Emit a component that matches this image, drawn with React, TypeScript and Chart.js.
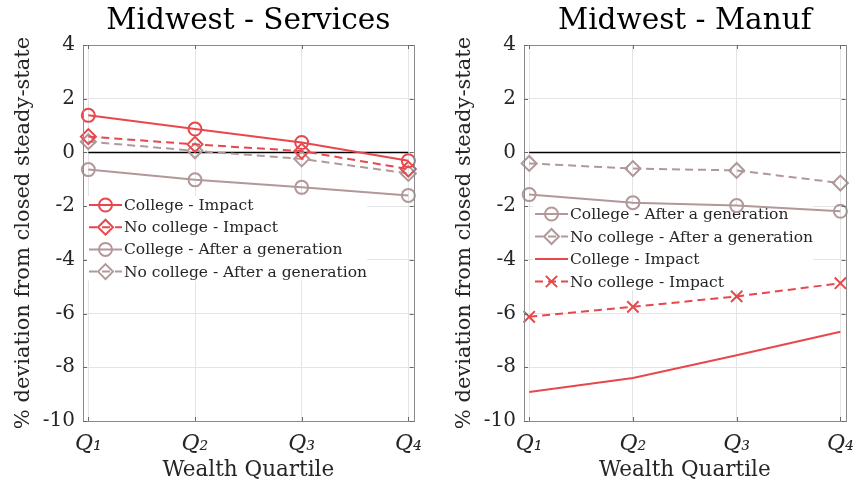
import React, { useEffect, useRef } from 'react';
import { Chart, registerables } from 'chart.js';

Chart.register(...registerables);

// ---------- data ----------
const quartiles = [1, 2, 3, 4];
const quartileLabels = ['Q₁', 'Q₂', 'Q₃', 'Q₄'];
const yTickValues = [4, 2, 0, -2, -4, -6, -8, -10];
const zeroLine = [0, 0, 0, 0];

// Midwest - Services
const servCollegeImpact = [1.38, 0.87, 0.37, -0.31];
const servNoCollegeImpact = [0.59, 0.3, 0.05, -0.62];
const servCollegeAfter = [-0.64, -1.02, -1.3, -1.6];
const servNoCollegeAfter = [0.4, 0.06, -0.24, -0.78];

// Midwest - Manuf
const manCollegeAfter = [-1.57, -1.87, -1.98, -2.19];
const manNoCollegeAfter = [-0.41, -0.6, -0.67, -1.14];
const manCollegeImpact = [-8.92, -8.4, -7.55, -6.68];
const manNoCollegeImpact = [-6.12, -5.75, -5.36, -4.87];

// ---------- styles ----------
const RED = '#E8474C';
const GREY = '#B19899';
const TEXT = '#262626';
const FONT = "'DejaVu Serif', serif";

type Marker = 'circle' | 'rectRot' | 'crossRot' | 'none';
type Series = { label: string; values: number[]; color: string; dashed: boolean; marker: Marker };

const markerRadius = (m: Marker) => (m === 'rectRot' ? 7.5 : m === 'crossRot' ? 8 : m === 'circle' ? 6.5 : 0);
const DASH = [8, 5];

function makeDataset(s: Series) {
  return {
    label: s.label,
    data: quartiles.map((q, i) => ({ x: q, y: s.values[i] })),
    borderColor: s.color,
    backgroundColor: s.color,
    borderWidth: 2,
    borderDash: s.dashed ? DASH : [],
    pointStyle: s.marker === 'none' ? 'circle' : s.marker,
    pointRadius: markerRadius(s.marker),
    pointHoverRadius: markerRadius(s.marker),
    pointBorderWidth: 2,
    pointBackgroundColor: 'rgba(0,0,0,0)',
    pointBorderColor: s.color,
    tension: 0,
    order: 0,
    clip: false as any,
  };
}

function drawMarker(ctx: CanvasRenderingContext2D, m: Marker, x: number, y: number, color: string) {
  const r = markerRadius(m);
  ctx.save();
  ctx.setLineDash([]);
  ctx.strokeStyle = color;
  ctx.lineWidth = 2;
  ctx.beginPath();
  if (m === 'circle') {
    ctx.arc(x, y, r, 0, Math.PI * 2);
  } else if (m === 'rectRot') {
    ctx.moveTo(x - r, y);
    ctx.lineTo(x, y - r);
    ctx.lineTo(x + r, y);
    ctx.lineTo(x, y + r);
    ctx.closePath();
  } else if (m === 'crossRot') {
    const d = r * Math.SQRT1_2;
    ctx.moveTo(x - d, y - d);
    ctx.lineTo(x + d, y + d);
    ctx.moveTo(x + d, y - d);
    ctx.lineTo(x - d, y + d);
  }
  if (m !== 'none') ctx.stroke();
  ctx.restore();
}

const decorPlugin = {
  id: 'decor',
  beforeDatasetsDraw(chart: any, _args: any, opts: any) {
    const ctx: CanvasRenderingContext2D = chart.ctx;
    const area = chart.chartArea;
    const lg = opts.legend;
    if (lg) {
      const items: Series[] = lg.items;
      const x0 = area.left + lg.dx;
      const y0 = area.top + lg.dy;
      ctx.save();
      ctx.font = `${lg.fontSize}px ${FONT}`;
      let maxW = 0;
      items.forEach((it) => (maxW = Math.max(maxW, ctx.measureText(it.label).width)));
      ctx.fillStyle = '#ffffff';
      ctx.fillRect(x0 - 2, y0 - 9, 35 + maxW + 2, (items.length - 1) * lg.rowH + 18);
      items.forEach((it, i) => {
        const y = y0 + i * lg.rowH;
        ctx.strokeStyle = it.color;
        ctx.lineWidth = 2;
        ctx.setLineDash(it.dashed ? DASH : []);
        ctx.beginPath();
        ctx.moveTo(x0, y);
        ctx.lineTo(x0 + 33, y);
        ctx.stroke();
        drawMarker(ctx, it.marker, x0 + 16.5, y, it.color);
        ctx.fillStyle = TEXT;
        ctx.textAlign = 'left';
        ctx.textBaseline = 'middle';
        ctx.fillText(it.label, x0 + 35, y + 1);
      });
      ctx.restore();
    }
  },
  afterDraw(chart: any, _args: any, opts: any) {
    const ctx: CanvasRenderingContext2D = chart.ctx;
    const area = chart.chartArea;
    ctx.save();
    ctx.strokeStyle = '#8A8A8A';
    ctx.lineWidth = 1;
    ctx.setLineDash([]);
    ctx.strokeRect(Math.round(area.left) + 0.5, Math.round(area.top) + 0.5, Math.round(area.right - area.left), Math.round(area.bottom - area.top));
    const tl = 4;
    ctx.strokeStyle = '#6A6A6A';
    ctx.beginPath();
    chart.scales.y.ticks.forEach((t: any) => {
      const py = Math.round(chart.scales.y.getPixelForValue(t.value)) + 0.5;
      ctx.moveTo(area.left, py);
      ctx.lineTo(area.left + tl, py);
      ctx.moveTo(area.right, py);
      ctx.lineTo(area.right - tl, py);
    });
    chart.scales.x.ticks.forEach((t: any) => {
      const px = Math.round(chart.scales.x.getPixelForValue(t.value)) + 0.5;
      ctx.moveTo(px, area.bottom);
      ctx.lineTo(px, area.bottom - tl);
      ctx.moveTo(px, area.top);
      ctx.lineTo(px, area.top + tl);
    });
    ctx.stroke();
    ctx.fillStyle = '#000000';
    ctx.font = `${opts.titleSize}px ${FONT}`;
    ctx.textAlign = 'center';
    ctx.textBaseline = 'alphabetic';
    ctx.fillText(opts.title, (area.left + area.right) / 2, opts.titleY);
    ctx.restore();
  },
};

function buildConfig(p: { title: string; series: Series[]; yAxisWidth: number; rightPad: number; yTitlePad: number; legend: any }) {
  const datasets: any[] = p.series.map(makeDataset);
  datasets.push({
    label: '',
    data: quartiles.map((q, i) => ({ x: q, y: zeroLine[i] })),
    borderColor: '#000000',
    borderWidth: 1.5,
    pointRadius: 0,
    order: 1,
  });
  const gridColor = '#E4E4E4';
  return {
    type: 'line' as const,
    data: { datasets },
    plugins: [decorPlugin],
    options: {
      animation: false as const,
      responsive: false,
      maintainAspectRatio: false,
      events: [],
      layout: { padding: { top: 45, right: p.rightPad, left: 0, bottom: 0 } },
      scales: {
        x: {
          type: 'linear' as const,
          min: 0.95,
          max: 4.05,
          afterBuildTicks: (s: any) => {
            s.ticks = quartiles.map((v) => ({ value: v }));
          },
          afterFit: (s: any) => {
            s.height = 66;
          },
          ticks: {
            autoSkip: false,
            maxRotation: 0,
            padding: 10,
            color: TEXT,
            font: { family: FONT, size: 22, style: 'italic' as const },
            callback: (v: any) => quartileLabels[quartiles.indexOf(Number(v))] ?? '',
          },
          grid: { color: gridColor, drawTicks: false },
          border: { display: false },
          title: {
            display: true,
            text: 'Wealth Quartile',
            color: TEXT,
            font: { family: FONT, size: 21.5 },
            padding: { top: 0, bottom: 4 },
          },
        },
        y: {
          type: 'linear' as const,
          min: -10,
          max: 4,
          afterBuildTicks: (s: any) => {
            s.ticks = yTickValues.map((v) => ({ value: v }));
          },
          afterFit: (s: any) => {
            s.width = p.yAxisWidth;
          },
          ticks: {
            padding: 8,
            color: TEXT,
            font: { family: FONT, size: 20 },
            callback: (v: any) => String(v),
          },
          grid: { color: gridColor, drawTicks: false },
          border: { display: false },
          title: {
            display: true,
            text: '% deviation from closed steady-state',
            color: TEXT,
            font: { family: FONT, size: 21 },
            padding: { top: p.yTitlePad, bottom: 0 },
          },
        },
      },
      plugins: {
        legend: { display: false },
        tooltip: { enabled: false },
        decor: { title: p.title, titleSize: 29.5, titleY: 28.5, legend: p.legend },
      },
    },
  };
}

const servicesSeries: Series[] = [
  { label: 'College - Impact', values: servCollegeImpact, color: RED, dashed: false, marker: 'circle' },
  { label: 'No college - Impact', values: servNoCollegeImpact, color: RED, dashed: true, marker: 'rectRot' },
  { label: 'College - After a generation', values: servCollegeAfter, color: GREY, dashed: false, marker: 'circle' },
  { label: 'No college - After a generation', values: servNoCollegeAfter, color: GREY, dashed: true, marker: 'rectRot' },
];

const manufSeries: Series[] = [
  { label: 'College - After a generation', values: manCollegeAfter, color: GREY, dashed: false, marker: 'circle' },
  { label: 'No college - After a generation', values: manNoCollegeAfter, color: GREY, dashed: true, marker: 'rectRot' },
  { label: 'College - Impact', values: manCollegeImpact, color: RED, dashed: false, marker: 'none' },
  { label: 'No college - Impact', values: manNoCollegeImpact, color: RED, dashed: true, marker: 'crossRot' },
];

function Panel(props: { cfg: any; left: number }) {
  const ref = useRef<HTMLCanvasElement | null>(null);
  useEffect(() => {
    if (!ref.current) return;
    const chart = new Chart(ref.current, props.cfg);
    return () => chart.destroy();
  }, []);
  return (
    <div style={{ position: 'absolute', left: props.left, top: 0, width: 432, height: 487 }}>
      <canvas ref={ref} width={432} height={487} style={{ display: 'block', width: 432, height: 487 }} />
    </div>
  );
}

export default function App() {
  const left = buildConfig({
    title: 'Midwest - Services',
    series: servicesSeries,
    yAxisWidth: 83,
    rightPad: 14,
    yTitlePad: 11,
    legend: { items: servicesSeries, dx: 6, dy: 160, rowH: 22.2, fontSize: 15.5 },
  });
  const right = buildConfig({
    title: 'Midwest - Manuf',
    series: manufSeries,
    yAxisWidth: 92,
    rightPad: 6,
    yTitlePad: 20,
    legend: { items: manufSeries, dx: 11, dy: 169, rowH: 22.5, fontSize: 15.5 },
  });
  return (
    <div style={{ position: 'absolute', left: 0, top: 0, width: 864, height: 487, background: '#fff', overflow: 'hidden' }}>
      <Panel cfg={left} left={0} />
      <Panel cfg={right} left={432} />
    </div>
  );
}
